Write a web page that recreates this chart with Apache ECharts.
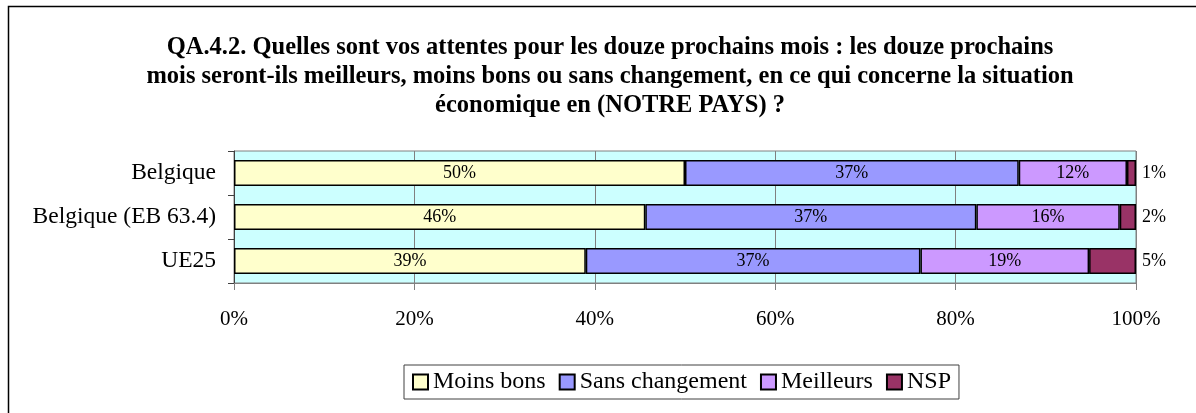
<!DOCTYPE html>
<html>
<head>
<meta charset="utf-8">
<script src="https://cdn.jsdelivr.net/npm/echarts@6/dist/echarts.min.js"></script>
<style>html,body{margin:0;padding:0;background:#fff;}#c{width:1196px;height:413px;}</style>
</head>
<body>
<div id="c"></div>
<script>
var categories = ['Belgique', 'Belgique (EB 63.4)', 'UE25'];
var seriesNames = ['Moins bons', 'Sans changement', 'Meilleurs', 'NSP'];
var moinsBons = [50, 45.6, 39];
var sansChangement = [37, 36.7, 37.1];
var meilleurs = [12, 15.9, 18.7];
var nsp = [1, 1.8, 5.2];
var xTicks = [0, 20, 40, 60, 80, 100];
var colors = ['#FFFFCC', '#9999FF', '#CC99FF', '#993366'];
var font = "'Liberation Serif', 'DejaVu Serif', serif";

var chart = echarts.init(document.getElementById('c'));
function mk(name, data, color, pos) {
  return {
    name: name, type: 'bar', stack: 'total', data: data, barWidth: 26,
    itemStyle: { color: color, borderColor: '#000', borderWidth: 1.5 },
    label: { show: true, position: pos, distance: 6, color: '#000', fontFamily: font, fontSize: 18,
      formatter: function (p) { return Math.round(p.value) + '%'; } },
    emphasis: { disabled: true }, animation: false
  };
}
chart.setOption({
  animation: false,
  graphic: [{ type: 'rect', shape: { x: 8.5, y: 6.5, width: 1250, height: 450 },
    style: { fill: 'none', stroke: '#000', lineWidth: 1.5 }, silent: true }],
  title: {
    text: 'QA.4.2. Quelles sont vos attentes pour les douze prochains mois : les douze prochains\nmois seront-ils meilleurs, moins bons ou sans changement, en ce qui concerne la situation\néconomique en (NOTRE PAYS) ?',
    left: 605, top: 28, textAlign: 'center',
    textStyle: { fontFamily: font, fontSize: 24.5, fontWeight: 'bold', color: '#000', lineHeight: 29 }
  },
  legend: {
    data: seriesNames, top: 365, left: 404, icon: 'rect',
    itemWidth: 15, itemHeight: 15, itemGap: 13,
    borderColor: '#404040', borderWidth: 1, padding: [5, 8],
    textStyle: { fontFamily: font, fontSize: 24, color: '#000' }
  },
  grid: { left: 234, right: 60, top: 151, height: 132, show: true,
    backgroundColor: '#CCFFFF', borderColor: '#808080', borderWidth: 1 },
  xAxis: {
    type: 'value', min: 0, max: 100, interval: 20,
    axisLine: { show: true, lineStyle: { color: '#808080' } },
    axisTick: { show: true, length: 7, lineStyle: { color: '#808080' } },
    splitLine: { show: true, lineStyle: { color: '#808080', width: 1 } },
    axisLabel: { fontFamily: font, fontSize: 21, color: '#000', margin: 26,
      formatter: function (v) { return xTicks.indexOf(v) >= 0 ? v + '%' : ''; } }
  },
  yAxis: {
    type: 'category', data: categories, inverse: true,
    axisLine: { show: true, lineStyle: { color: '#404040' } },
    axisTick: { show: true, length: 6, lineStyle: { color: '#404040' } },
    axisLabel: { fontFamily: font, fontSize: 23.5, color: '#000', margin: 18 }
  },
  series: [
    mk(seriesNames[0], moinsBons, colors[0], 'inside'),
    mk(seriesNames[1], sansChangement, colors[1], 'inside'),
    mk(seriesNames[2], meilleurs, colors[2], 'inside'),
    mk(seriesNames[3], nsp, colors[3], 'right')
  ]
});
</script>
</body>
</html>
